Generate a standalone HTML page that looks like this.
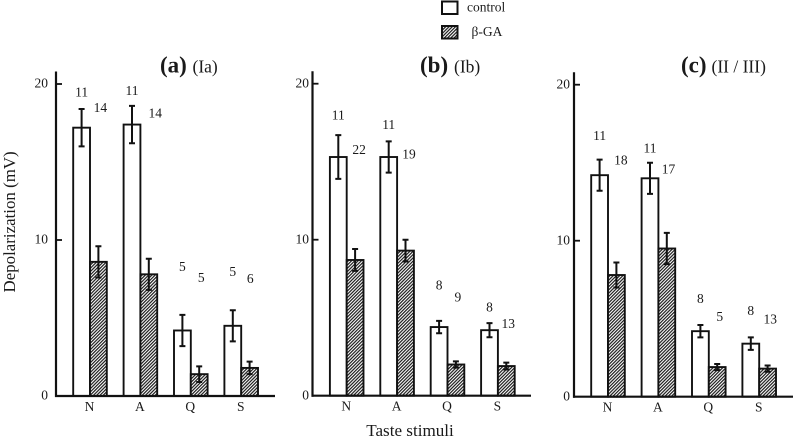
<!DOCTYPE html>
<html lang="en">
<head>
<meta charset="utf-8">
<title>Depolarization by taste stimuli</title>
<style>
html,body{margin:0;padding:0;background:#fff;width:793px;height:440px;overflow:hidden}
svg{display:block}
text{font-family:"Liberation Serif","Times New Roman",serif;fill:#1a1a1a}
</style>
</head>
<body>
<svg id="chart" xmlns="http://www.w3.org/2000/svg" width="793" height="440" viewBox="0 0 793 440">
  <defs>
    <pattern id="hatch" patternUnits="userSpaceOnUse" width="2.3" height="2.3" patternTransform="rotate(45)">
      <rect width="2.3" height="2.3" fill="#fff"/>
      <rect x="0" y="0" width="1.2" height="2.3" fill="#1a1a1a"/>
    </pattern>
  </defs>
  <g>
    <rect x="442" y="1.5" width="15.5" height="12.5" fill="#fff" stroke="#111" stroke-width="2"/>
    <text x="467" y="11.7" font-size="13.5">control</text>
    <rect x="442" y="26" width="15.5" height="12.5" fill="url(#hatch)" stroke="#111" stroke-width="2"/>
    <text x="471.5" y="36" font-size="13.5">β-GA</text>
  </g>
  <text transform="translate(15,292.5) rotate(-90)" font-size="16.9">Depolarization (mV)</text>
  <text x="410" y="436" font-size="17.1" text-anchor="middle">Taste stimuli</text>
  <g>
    <text x="160" y="72.5" font-size="23" font-weight="bold">(a)</text>
    <text x="192.5" y="72.5" font-size="17.5">(Ia)</text>
  </g>
  <g>
    <text x="420" y="72.5" font-size="23" font-weight="bold">(b)</text>
    <text x="454" y="72.5" font-size="17.5">(Ib)</text>
  </g>
  <g>
    <text x="681" y="72.5" font-size="23" font-weight="bold">(c)</text>
    <text x="711.5" y="72.5" font-size="17.5">(II / III)</text>
  </g>
</svg>
<script>
const categories = ['N', 'A', 'Q', 'S'];
const yTickValues = [0, 10, 20];

const controlA = [17.2, 17.4, 4.2, 4.5];
const controlErrA = [1.2, 1.2, 1.0, 1.0];
const betaGaA = [8.6, 7.8, 1.4, 1.8];
const betaGaErrA = [1.0, 1.0, 0.5, 0.4];
const controlCountA = ['11', '11', '5', '5'];
const betaGaCountA = ['14', '14', '5', '6'];
const controlCountLevelA = [19.2, 19.3, 8.0, 7.7];
const betaGaCountLevelA = [18.2, 17.85, 7.3, 7.25];

const controlB = [15.3, 15.3, 4.4, 4.2];
const controlErrB = [1.4, 1.0, 0.4, 0.45];
const betaGaB = [8.7, 9.3, 2.0, 1.9];
const betaGaErrB = [0.7, 0.7, 0.2, 0.22];
const controlCountB = ['11', '11', '8', '8'];
const betaGaCountB = ['22', '19', '9', '13'];
const controlCountLevelB = [17.7, 17.1, 6.8, 5.4];
const betaGaCountLevelB = [15.5, 15.2, 6.05, 4.35];

const controlC = [14.2, 14.0, 4.2, 3.4];
const controlErrC = [1.0, 1.0, 0.4, 0.4];
const betaGaC = [7.8, 9.5, 1.9, 1.8];
const betaGaErrC = [0.8, 1.0, 0.2, 0.2];
const controlCountC = ['11', '11', '8', '8'];
const betaGaCountC = ['18', '17', '5', '13'];
const controlCountLevelC = [16.45, 15.65, 6.0, 5.25];
const betaGaCountLevelC = [14.9, 14.3, 4.85, 4.7];

const panels = [
  {id: 'a', axisX: 56, axisEnd: 275, y0: 396, firstGroup: 90, labelGap: 8, nudge: [2, 6.5, 2, 0.7],
   control: controlA, controlErr: controlErrA, beta: betaGaA, betaErr: betaGaErrA,
   controlCount: controlCountA, betaCount: betaGaCountA, controlLevel: controlCountLevelA, betaLevel: betaGaCountLevelA},
  {id: 'b', axisX: 312.5, axisEnd: 531, y0: 395.7, firstGroup: 346.7, labelGap: 3.5, nudge: [4, 3.5, 2, 2],
   control: controlB, controlErr: controlErrB, beta: betaGaB, betaErr: betaGaErrB,
   controlCount: controlCountB, betaCount: betaGaCountB, controlLevel: controlCountLevelB, betaLevel: betaGaCountLevelB},
  {id: 'c', axisX: 574, axisEnd: 793, y0: 396.7, firstGroup: 608, labelGap: 4, nudge: [4.5, 1.7, 2.5, 2.7],
   control: controlC, controlErr: controlErrC, beta: betaGaC, betaErr: betaGaErrC,
   controlCount: controlCountC, betaCount: betaGaCountC, controlLevel: controlCountLevelC, betaLevel: betaGaCountLevelC}
];

const SVG_NS = 'http://www.w3.org/2000/svg';
const PX_PER_UNIT = 15.6;
const GROUP_STEP = 50.4;
const BAR_WIDTH = 16.8;
const AXIS_MAX = 20.8;
const INK = '#111';
const chart = document.getElementById('chart');

function make(tag, attrs, parent, content) {
  const el = document.createElementNS(SVG_NS, tag);
  for (const key in attrs) el.setAttribute(key, attrs[key]);
  if (content !== undefined) el.textContent = content;
  parent.appendChild(el);
  return el;
}

panels.forEach(function (p) {
  const yScale = function (v) { return p.y0 - v * PX_PER_UNIT; };
  const groupX = function (i) { return p.firstGroup + i * GROUP_STEP; };

  const group = make('g', {}, chart);
  
  

  function drawBar(x, value, err, fill, seriesName, cat) {
    const top = yScale(value);
    const rect = make('rect', {x: x, y: top, width: BAR_WIDTH, height: p.y0 - top, fill: fill, stroke: INK, 'stroke-width': 1.9}, group);
    
    
    const cx = x + BAR_WIDTH / 2;
    const hi = yScale(value + err);
    const lo = yScale(value - err);
    const path = 'M' + cx + ' ' + hi + 'V' + lo + 'M' + (cx - 3) + ' ' + hi + 'H' + (cx + 3) + 'M' + (cx - 3) + ' ' + lo + 'H' + (cx + 3);
    const whisker = make('path', {d: path, fill: 'none', stroke: INK, 'stroke-width': 2}, group);
    
    
  }

  categories.forEach(function (cat, i) {
    const mid = groupX(i);
    drawBar(mid - BAR_WIDTH, p.control[i], p.controlErr[i], '#fff', 'control', cat);
    drawBar(mid, p.beta[i], p.betaErr[i], 'url(#hatch)', 'beta-ga', cat);

    const catLabel = make('text', {x: mid - 0.5, y: p.y0 + 15, 'font-size': 13.5, 'text-anchor': 'middle'}, group, cat);
    
    

    const controlN = make('text', {x: mid - BAR_WIDTH / 2, y: yScale(p.controlLevel[i]), 'font-size': 13.5, 'text-anchor': 'middle'}, group, p.controlCount[i]);
    
    

    const betaN = make('text', {x: mid + BAR_WIDTH / 2 + p.nudge[i], y: yScale(p.betaLevel[i]), 'font-size': 13.5, 'text-anchor': 'middle'}, group, p.betaCount[i]);
    
    
  });

  const yAxis = make('line', {x1: p.axisX, x2: p.axisX, y1: yScale(AXIS_MAX), y2: p.y0 + 1, stroke: INK, 'stroke-width': 2.2}, group);
  
  

  const xAxis = make('line', {x1: p.axisX - 1, x2: p.axisEnd, y1: p.y0, y2: p.y0, stroke: INK, 'stroke-width': 2.2}, group);
  
  

  yTickValues.forEach(function (v) {
    const y = yScale(v);
    if (v > 0) {
      const tick = make('line', {x1: p.axisX, x2: p.axisX + 6, y1: y, y2: y, stroke: INK, 'stroke-width': 1.8}, group);
      
      
    }
    const label = make('text', {x: p.axisX - p.labelGap, y: y + 3.6, 'font-size': 13.5, 'text-anchor': 'end'}, group, String(v));
    
    
  });
});
</script>
</body>
</html>
